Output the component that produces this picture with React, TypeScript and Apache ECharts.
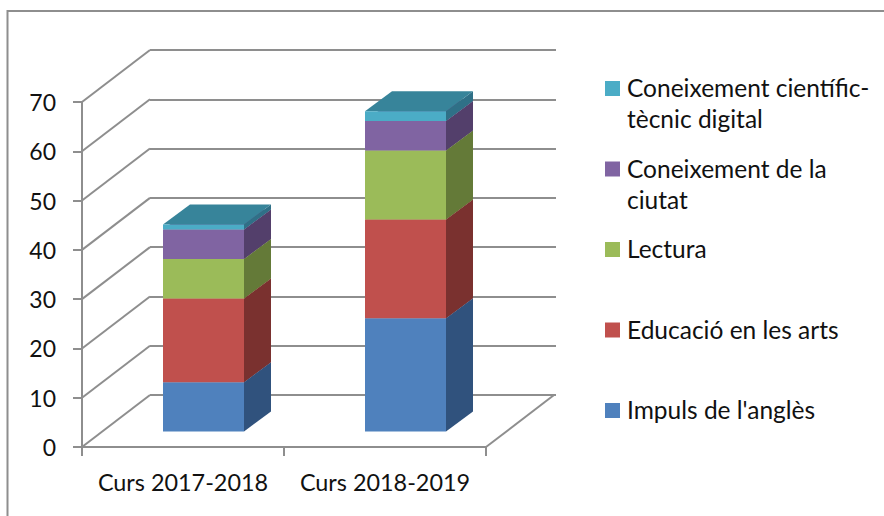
import React, { useEffect, useRef } from "react";
import * as echarts from "echarts";

const categories = ["Curs 2017-2018", "Curs 2018-2019"];
const seriesNames = [
  "Impuls de l'anglès",
  "Educació en les arts",
  "Lectura",
  "Coneixement de la\nciutat",
  "Coneixement científic-\ntècnic digital",
];
const impuls = [10, 23];
const educacio = [17, 20];
const lectura = [8, 14];
const ciutat = [6, 6];
const cientific = [1, 2];
const seriesValues = [impuls, educacio, lectura, ciutat, cientific];
const yTicks = [0, 10, 20, 30, 40, 50, 60, 70];

const frontColors = ["#4F81BD", "#C0504D", "#9BBB59", "#8064A2", "#4BACC6"];
const sideColors = ["#30527D", "#7A312F", "#647A38", "#533F6B", "#2F7087"];
const topColors = ["#3B6899", "#9A403E", "#7D9647", "#674F84", "#37849A"];

const FONT = "Lato";
const GREY = "#8E8E8E";
const WALL = { dx: 68, dy: -52 };
const BAR = { gapX: 20.5, gapY: -15.5, depthX: 27, depthY: -20, widthRatio: 81 / 202 };
const LEGEND = { swatchX: 605, textX: 627, firstY: 88.5, step: 80.5, lineHeight: 31, textShift: -1 };

export default function App() {
  const ref = useRef<HTMLDivElement>(null);
  useEffect(() => {
    document.body.style.margin = "0";
    const chart = echarts.init(ref.current!, null, { renderer: "svg" });

    const barSeries = seriesNames.map((name, s) => ({
      type: "custom",
      name,
      xAxisIndex: 0,
      yAxisIndex: 0,
      clip: false,
      z: 5 + s,
      encode: { x: 0, y: [1, 2] },
      data: categories.map((_, c) => {
        let base = 0;
        for (let i = 0; i < s; i++) base += seriesValues[i][c];
        return [c, base, base + seriesValues[s][c]];
      }),
      renderItem: (_p: any, api: any) => {
        const c = api.value(0);
        const low = api.coord([c, api.value(1)]);
        const high = api.coord([c, api.value(2)]);
        const w = api.size([1, 0])[0] * BAR.widthRatio;
        const x0 = low[0] - w / 2 + BAR.gapX;
        const x1 = x0 + w;
        const yb = low[1] + BAR.gapY;
        const yt = high[1] + BAR.gapY;
        const dx = BAR.depthX;
        const dy = BAR.depthY;
        return {
          type: "group",
          children: [
            {
              type: "polygon",
              shape: { points: [[x1, yb], [x1 + dx, yb + dy], [x1 + dx, yt + dy], [x1, yt]] },
              style: { fill: sideColors[s] },
            },
            {
              type: "polygon",
              shape: { points: [[x0, yt], [x1, yt], [x1 + dx, yt + dy], [x0 + dx, yt + dy]] },
              style: { fill: topColors[s] },
            },
            {
              type: "polygon",
              shape: { points: [[x0, yb], [x1, yb], [x1, yt], [x0, yt]] },
              style: { fill: frontColors[s] },
            },
          ],
        };
      },
    }));

    const option: any = {
      animation: false,
      backgroundColor: "#fff",
      textStyle: { fontFamily: FONT },
      grid: [
        { left: 82, width: 404, top: 102, height: 345 },
        { left: 82 + WALL.dx, width: 404 + 2, top: 102 + WALL.dy, height: 345 },
      ],
      xAxis: [
        {
          type: "category",
          gridIndex: 0,
          data: categories,
          axisLine: { lineStyle: { color: GREY, width: 2 } },
          axisTick: { show: true, length: 9, lineStyle: { color: GREY, width: 2 } },
          axisLabel: { color: "#111", fontFamily: FONT, fontSize: 23.4, margin: 23, interval: 0 },
        },
        { type: "category", gridIndex: 1, data: categories, show: false },
      ],
      yAxis: [
        {
          type: "value",
          gridIndex: 0,
          min: 0,
          max: 70,
          interval: 10,
          splitLine: { show: false },
          axisLine: { show: true, lineStyle: { color: GREY, width: 2 } },
          axisTick: { show: true, length: 9, lineStyle: { color: GREY, width: 2 } },
          axisLabel: { color: "#111", fontFamily: FONT, fontSize: 23, margin: 26 },
        },
        {
          type: "value",
          gridIndex: 1,
          min: 0,
          max: 70,
          interval: 10,
          axisLine: { show: false },
          axisTick: { show: false },
          axisLabel: { show: false },
          splitLine: { show: true, lineStyle: { color: GREY, width: 2 } },
        },
      ],
      series: [
        {
          type: "custom",
          xAxisIndex: 0,
          yAxisIndex: 0,
          clip: false,
          z: 1,
          silent: true,
          encode: { y: 0 },
          data: yTicks.map((v) => [v]),
          renderItem: (_p: any, api: any) => {
            const band = api.size([1, 0])[0];
            const p = api.coord([0, api.value(0)]);
            const x = p[0] - band / 2;
            return {
              type: "line",
              shape: { x1: x, y1: p[1], x2: x + WALL.dx, y2: p[1] + WALL.dy },
              style: { stroke: GREY, lineWidth: 2 },
            };
          },
        },
        {
          type: "custom",
          xAxisIndex: 0,
          yAxisIndex: 0,
          clip: false,
          z: 1,
          silent: true,
          encode: { y: 0 },
          data: [[yTicks[0]]],
          renderItem: (_p: any, api: any) => {
            const band = api.size([1, 0])[0];
            const p = api.coord([categories.length - 1, api.value(0)]);
            const x = p[0] + band / 2;
            return {
              type: "line",
              shape: { x1: x, y1: p[1], x2: x + WALL.dx, y2: p[1] + WALL.dy },
              style: { stroke: GREY, lineWidth: 2 },
            };
          },
        },
        ...barSeries,
      ],
      graphic: {
        elements: [
          {
            type: "polyline",
            silent: true,
            shape: { points: [[7.5, 516], [7.5, 11], [884, 11]] },
            style: { stroke: GREY, lineWidth: 2, fill: "none" },
          },
          ...seriesNames
            .map((name, s) => {
              const i = seriesNames.length - 1 - s;
              const cy = LEGEND.firstY + i * LEGEND.step;
              return [
                {
                  type: "rect",
                  shape: { x: LEGEND.swatchX, y: cy - 7.5, width: 15, height: 15 },
                  style: { fill: frontColors[s] },
                },
                {
                  type: "text",
                  x: LEGEND.textX,
                  y: cy - LEGEND.lineHeight / 2 + LEGEND.textShift,
                  style: {
                    text: name,
                    fill: "#111",
                    font: `24.5px ${FONT}`,
                    lineHeight: LEGEND.lineHeight,
                    verticalAlign: "top",
                    align: "left",
                  },
                },
              ];
            })
            .flat(),
        ],
      },
    };
    chart.setOption(option);
    return () => chart.dispose();
  }, []);
  return (
    <div
      ref={ref}
      style={{ position: "absolute", left: 0, top: 0, width: 884, height: 516 }}
    />
  );
}
